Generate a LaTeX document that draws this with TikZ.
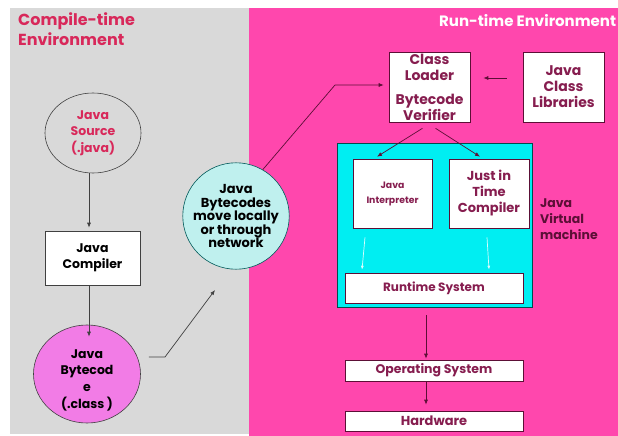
\documentclass[tikz,border=0pt]{standalone}
\usepackage{fontspec}
\setmainfont{Poppins}
\usetikzlibrary{shapes.geometric,arrows.meta,calc}
\definecolor{bggray}{HTML}{D9D9D9}
\definecolor{bgpink}{HTML}{FF47AD}
\definecolor{crim}{HTML}{D8285A}
\definecolor{maroon}{HTML}{861D4F}
\definecolor{dmaroon}{HTML}{5C0F36}
\definecolor{orchid}{HTML}{F27CE6}
\definecolor{lcyan}{HTML}{BFF0EE}
\definecolor{jvmcyan}{HTML}{00EEF2}
\definecolor{lgray}{HTML}{404040}
\tikzset{
  txt/.style={font=\bfseries\fontsize{12.5}{16.5}\selectfont, align=center, inner sep=0pt},
  wbox/.style={txt, rectangle, draw=lgray, fill=white, line width=0.6pt},
  rbox/.style={txt, rectangle, draw=dmaroon, fill=white, line width=0.6pt, text=maroon},
  garrow/.style={draw=lgray, line width=0.7pt, -{Latex[length=5pt,width=4pt]}},
  rarrow/.style={draw=dmaroon, line width=0.7pt, -{Latex[length=5pt,width=4pt]}},
  warrow/.style={draw=white!85!jvmcyan, line width=0.7pt, -{Latex[length=4pt,width=3pt]}},
}
\begin{document}
\begin{tikzpicture}[x=1pt,y=-1pt]
\useasboundingbox (0,0) rectangle (618,436);
\fill[white] (0,0) rectangle (618,436);
\fill[bggray] (10,8) rectangle (249,434);
\fill[bgpink] (249,8) rectangle (618,436);

% titles
\node[txt, anchor=north west, align=left, text=crim, font=\bfseries\fontsize{16}{20}\selectfont] (ctitle) at (18,12) {Compile-time\\Environment};
\node[txt, anchor=west, text=white, font=\bfseries\fontsize{15}{19}\selectfont] (rtitle) at (439,21) {Run-time Environment};

% compile-time side
\node[txt, ellipse, draw=lgray, line width=0.6pt, minimum width=96, minimum height=80, text=crim] (src) at (93,133) {Java\\Source\\(.java)};
\node[wbox, minimum width=95, minimum height=54] (comp) at (92.5,258) {Java\\Compiler};
\node[ellipse, draw=lgray, fill=orchid, line width=0.6pt, minimum width=107, minimum height=98] (bc) at (87,374) {};
\node[txt, font=\bfseries\fontsize{12.5}{16.7}\selectfont] (bctext) at (87,380) {Java\\Bytecod\\e\\(.class )};
\node[txt, circle, draw=teal!70!black, fill=lcyan, line width=0.6pt, minimum size=92, font=\bfseries\fontsize{13}{13.5}\selectfont] (net) at (236,216) {Java\\Bytecodes\\move locally\\or through\\network};

% run-time side
\node[rbox, minimum width=81, minimum height=70, font=\bfseries\fontsize{14}{16}\selectfont] (cl) at (429.5,87) {Class\\Loader\\[8pt]Bytecode\\Verifier};
\node[rbox, minimum width=81, minimum height=70, font=\bfseries\fontsize{14}{16}\selectfont] (jcl) at (563.5,87) {Java\\Class\\Libraries};
\node[rectangle, draw=teal!60!black, fill=jvmcyan, line width=0.8pt, minimum width=195, minimum height=164] (jvm) at (434.5,225) {};
\node[rbox, minimum width=79, minimum height=69, font=\bfseries\fontsize{9.3}{15}\selectfont] (ji) at (392.5,193.5) {Java\\Interpreter};
\node[rbox, minimum width=80, minimum height=69, font=\bfseries\fontsize{13}{16}\selectfont] (jit) at (489,193.5) {Just in\\Time\\Compiler};
\node[rbox, minimum width=178, minimum height=30, font=\bfseries\fontsize{12}{14}\selectfont] (rts) at (434,288) {Runtime System};
\node[txt, anchor=north west, align=left, text=dmaroon, font=\bfseries\fontsize{12.5}{16}\selectfont] (jvmlbl) at (540,199) {Java\\Virtual\\machine};
\node[rbox, minimum width=178, minimum height=21, font=\bfseries\fontsize{12.5}{14}\selectfont] (os) at (434,370.5) {Operating System};
\node[rbox, minimum width=178, minimum height=20, font=\bfseries\fontsize{13}{14}\selectfont] (hw) at (434,421) {Hardware};

% connectors compile side
\draw[garrow] ([xshift=-4pt]src.south) -- ([xshift=-3.5pt,yshift=3pt]comp.north);
\draw[garrow] ([xshift=-3.5pt]comp.south) -- ($(bc.north)+(2,12)$);
\coordinate (k1) at (165,357);
\coordinate (k2) at (215,290);
\draw[garrow] ($(bc.east)+(8,-17)$) -- (k1) -- (k2);

% connectors run-time side
\coordinate (k3) at (335,85);
\draw[rarrow] (net.60) -- (k3) -- ([xshift=-5pt,yshift=2pt]cl.west);
\draw[rarrow] ([yshift=9pt,xshift=-16pt]jcl.west) -- ([yshift=9pt,xshift=13pt]cl.east);
\draw[rarrow] ($(cl.south)+(-7,6)$) -- ($(ji.north)+(-15.5,-2)$);
\draw[rarrow] ($(cl.south)+(6,6)$) -- ($(jit.north)+(-9,-2)$);
\draw[warrow] ($(ji.south)+(-27.5,9)$) -- ($(rts.north)+(-72,-3)$);
\draw[warrow] ($(jit.south)+(-2,9)$) -- ($(rts.north)+(55,-3)$);
\draw[rarrow] ($(jvm.south)+(-8.5,8)$) -- ($(os.north)+(-8,-1)$);
\draw[rarrow] ($(os.south)+(-8,0)$) -- ($(hw.north)+(-8,-6)$);
\end{tikzpicture}
\end{document}
